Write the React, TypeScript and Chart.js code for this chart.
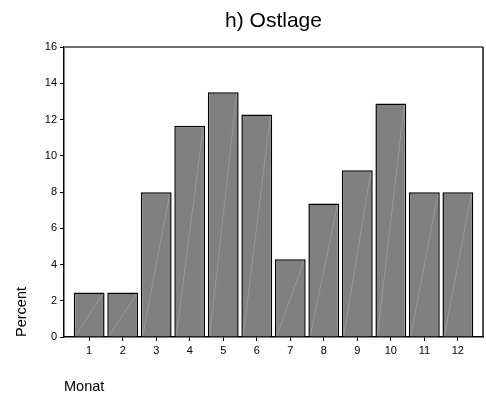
import React, { useEffect, useRef } from "react";
import { Chart, registerables } from "chart.js";

Chart.register(...registerables);

const months: number[] = [1, 2, 3, 4, 5, 6, 7, 8, 9, 10, 11, 12];
const percentValues: number[] = [2.45, 2.45, 7.98, 11.66, 13.5, 12.27, 4.29, 7.36, 9.2, 12.88, 7.98, 7.98];
const yTicks: number[] = [0, 2, 4, 6, 8, 10, 12, 14, 16];
const chartTitle = "h) Ostlage";
const xTitle = "Monat";
const yTitle = "Percent";

const FONT = "'Liberation Sans', Arial, Helvetica, sans-serif";

const framePlugin = {
  id: "frame",
  afterDraw(chart: any) {
    const { ctx, chartArea } = chart;
    ctx.save();
    ctx.strokeStyle = "#6e6e6e";
    ctx.lineWidth = 2;
    ctx.beginPath();
    ctx.moveTo(chartArea.left, chartArea.top);
    ctx.lineTo(chartArea.right, chartArea.top);
    ctx.stroke();
    ctx.strokeStyle = "#111";
    ctx.lineWidth = 1.5;
    ctx.beginPath();
    ctx.moveTo(chartArea.right, chartArea.top);
    ctx.lineTo(chartArea.right, chartArea.bottom);
    ctx.stroke();
    ctx.restore();
  },
};

const diagPlugin = {
  id: "diag",
  afterDatasetsDraw(chart: any) {
    const { ctx } = chart;
    const meta = chart.getDatasetMeta(0);
    ctx.save();
    ctx.strokeStyle = "rgba(200,200,200,0.45)";
    ctx.lineWidth = 0.8;
    meta.data.forEach((el: any) => {
      const p = el.getProps(["x", "y", "base", "width"], true);
      const l = p.x - p.width / 2 + 2;
      const r = p.x + p.width / 2 - 2;
      ctx.beginPath();
      ctx.moveTo(l, p.base - 1);
      ctx.lineTo(r, p.y + 2);
      ctx.stroke();
    });
    ctx.restore();
  },
};

export default function App() {
  const ref = useRef<HTMLCanvasElement | null>(null);
  useEffect(() => {
    if (!ref.current) return;
    const chart = new Chart(ref.current, {
      type: "bar",
      data: {
        datasets: [
          {
            data: months.map((m, i) => ({ x: m, y: percentValues[i] })),
            backgroundColor: "#808080",
            borderColor: "#000",
            borderWidth: 1.5,
            barPercentage: 0.92,
            categoryPercentage: 1,
          },
        ],
      },
      options: {
        animation: false,
        responsive: false,
        maintainAspectRatio: false,
        layout: { padding: { left: 0, right: 3, top: 0, bottom: 0 } },
        plugins: {
          legend: { display: false },
          tooltip: { enabled: false },
          title: {
            display: true,
            fullSize: false,
            text: chartTitle,
            color: "#000",
            font: { family: FONT, size: 21, weight: "normal" },
            padding: { top: 9, bottom: 12.8 },
          },
        },
        scales: {
          x: {
            type: "linear",
            offset: false,
            min: 0.25,
            max: 12.75,
            afterBuildTicks: (axis: any) => {
              axis.ticks = months.map((v) => ({ value: v }));
            },
            ticks: {
              color: "#000",
              font: { family: FONT, size: 11 },
              padding: 3,
              maxRotation: 0,
              autoSkip: false,
            },
            grid: { drawOnChartArea: false, tickLength: 4, color: "#000", offset: false },
            border: { display: true, color: "#000", width: 1.5 },
            title: {
              display: true,
              text: xTitle,
              align: "start",
              color: "#000",
              font: { family: FONT, size: 14.5 },
              padding: { top: 18.1, bottom: 4.3 },
            },
          },
          y: {
            min: 0,
            max: 16,
            afterBuildTicks: (axis: any) => {
              axis.ticks = yTicks.map((v) => ({ value: v }));
            },
            ticks: {
              color: "#000",
              font: { family: FONT, size: 11 },
              padding: 3,
            },
            grid: { drawOnChartArea: false, tickLength: 4, color: "#000" },
            border: { display: true, color: "#000", width: 1.5 },
            title: {
              display: true,
              text: yTitle,
              align: "start",
              color: "#000",
              font: { family: FONT, size: 14.5 },
              padding: { top: 13.3, bottom: 11.1 },
            },
          },
        },
      },
      plugins: [framePlugin, diagPlugin],
    } as any);
    return () => chart.destroy();
  }, []);
  return (
    <div style={{ position: "absolute", left: 0, top: 0, width: 486, height: 400, background: "#fff" }}>
      <canvas ref={ref} width={486} height={400} style={{ display: "block", width: 486, height: 400 }} />
    </div>
  );
}
